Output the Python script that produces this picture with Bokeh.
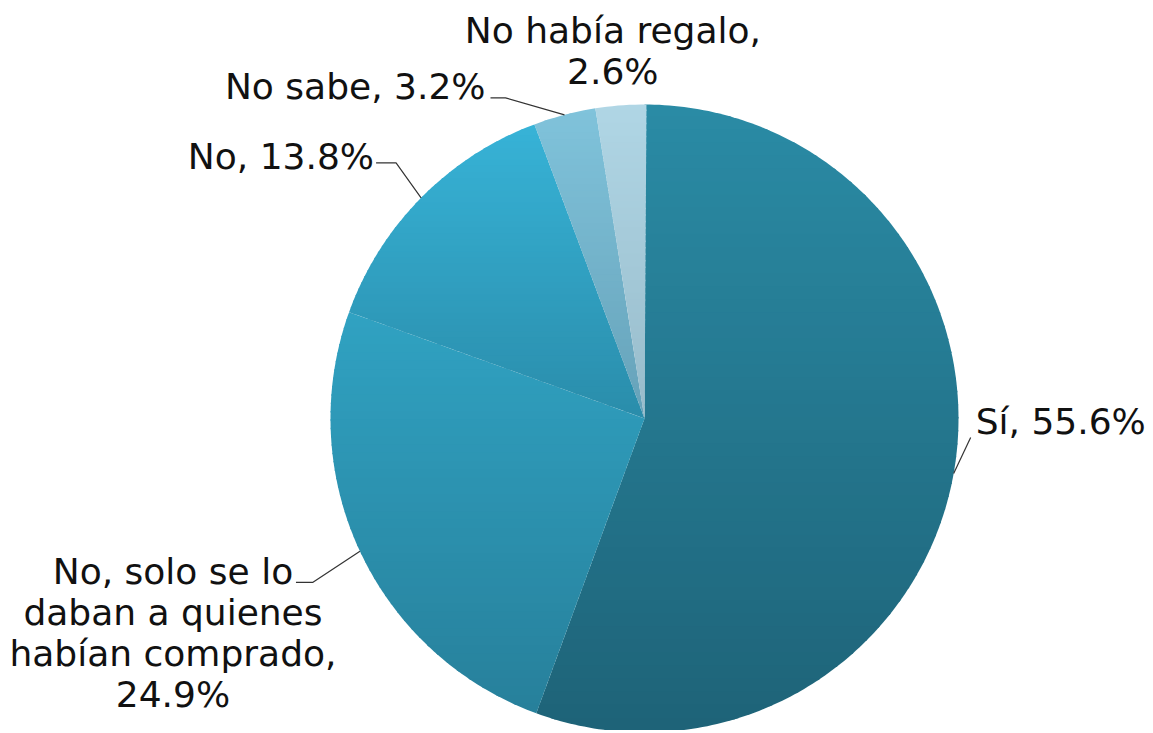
import numpy as np
from bokeh.plotting import figure
from bokeh.models import Range1d
from bokeh.core.properties import value
from bokeh.embed import file_html
from bokeh.resources import INLINE

# ---- data ----
categories = ["Sí", "No, solo se lo daban a quienes habían comprado", "No", "No sabe", "No había regalo"]
percent = [55.6, 24.9, 13.8, 3.2, 2.6]
label_texts = ["Sí, 55.6%", "No, solo se lo\ndaban a quienes\nhabían comprado,\n24.9%",
               "No, 13.8%", "No sabe, 3.2%", "No había regalo,\n2.6%"]
top_colors = ["#2a8ba5", "#30a2c2", "#37b3d7", "#80c3db", "#b0d6e5"]
bottom_colors = ["#1e6378", "#27809b", "#2a8dab", "#66a2b9", "#98bccb"]

# ---- layout (pixels) ----
W, H = 1150, 730
cx, cy, R = 644, -418, 314
# label anchor offsets relative to slice edge point (dx, dy)
label_off = [(22, 52), (-187, -81.5), (-47, 41), (-79, 28), (-8, 54)]
label_align = ["left", "center", "right", "right", "center"]
# leader polyline offsets relative to edge point
leaders = [[(0, 0), (17, 36)],
           [(0, 0), (-47, -31), (-64, -31)],
           [(0, 0), (-25, 35), (-45, 35)],
           [(0, 0), (-59, 17), (-74, 17)],
           None]

p = figure(width=W, height=H, output_backend="svg", toolbar_location=None,
           x_range=Range1d(0, W), y_range=Range1d(-H, 0),
           min_border=0, outline_line_color=None)
p.axis.visible = False
p.grid.visible = False
p.background_fill_color = "white"
p.border_fill_color = "white"


def hex2rgb(h):
    h = h.lstrip("#")
    return np.array([int(h[i:i + 2], 16) for i in (0, 2, 4)], dtype=float)


def rgb2hex(c):
    return "#%02x%02x%02x" % tuple(int(round(v)) for v in c)


def clip_half(pts, yv, keep_above):
    out = []
    n = len(pts)
    for i in range(n):
        a = pts[i]
        b = pts[(i + 1) % n]
        ina = a[1] >= yv if keep_above else a[1] <= yv
        inb = b[1] >= yv if keep_above else b[1] <= yv
        if ina:
            out.append(a)
        if ina != inb:
            t = (yv - a[1]) / (b[1] - a[1])
            out.append((a[0] + t * (b[0] - a[0]), yv))
    return out


frac = np.array(percent) / 100.0
cum = np.concatenate([[0], np.cumsum(frac)])
start = np.pi / 2 - cum[:-1] * 2 * np.pi
end = np.pi / 2 - cum[1:] * 2 * np.pi
mid = (start + end) / 2

xs, ys, cols = [], [], []
nb = 48
for i in range(len(percent)):
    th = np.linspace(start[i], end[i], max(8, int(400 * frac[i])))
    poly = [(cx, cy)] + [(cx + R * np.cos(t), cy + R * np.sin(t)) for t in th]
    ymax = max(pt[1] for pt in poly)
    ymin = min(pt[1] for pt in poly)
    c0, c1 = hex2rgb(top_colors[i]), hex2rgb(bottom_colors[i])
    for k in range(nb):
        yhi = ymax - (ymax - ymin) * k / nb
        ylo = ymax - (ymax - ymin) * (k + 1) / nb
        band = clip_half(clip_half(poly, ylo, True), yhi + (1.5 if k > 0 else 0), False)
        if len(band) < 3:
            continue
        t = (k + 0.5) / nb
        xs.append([pt[0] for pt in band])
        ys.append([pt[1] for pt in band])
        cols.append(rgb2hex(c0 + (c1 - c0) * t))

p.patches(xs, ys, fill_color=cols, line_color=None)

ex = cx + R * np.cos(mid)
ey = cy + R * np.sin(mid)

for i in range(len(percent)):
    if leaders[i] is not None:
        lx = [ex[i] + d[0] for d in leaders[i]]
        ly = [ey[i] + d[1] for d in leaders[i]]
        p.line(lx, ly, line_color="#333333", line_width=1.2)
    p.text(x=[ex[i] + label_off[i][0]], y=[ey[i] + label_off[i][1]], text=[label_texts[i]],
           text_font=value("DejaVu Sans"), text_font_size="36px", text_color="#111111",
           text_align=label_align[i], text_baseline="alphabetic", text_line_height=1.0)

open("out.html", "w").write(file_html(p, INLINE))
